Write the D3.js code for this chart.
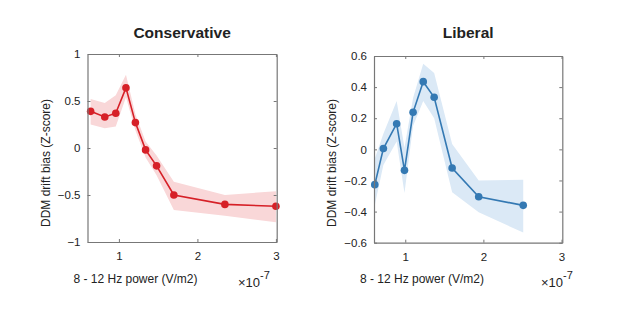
<!DOCTYPE html>
<html>
<head>
<meta charset="utf-8">
<script src="https://cdn.jsdelivr.net/npm/d3@7"></script>
<style>
  body { margin: 0; background: #fff; }
  svg text { font-family: "Liberation Sans", Arial, Helvetica, sans-serif; fill: #222; }
</style>
</head>
<body>
<div id="chart"></div>
<script>
// Conservative panel
const consX = [0.64, 0.82, 0.96, 1.09, 1.21, 1.34, 1.48, 1.70, 2.35, 3.0];
const consY = [0.39, 0.33, 0.37, 0.64, 0.27, -0.02, -0.19, -0.50, -0.60, -0.62];
const consHi = [0.52, 0.48, 0.56, 0.78, 0.36, 0.07, -0.08, -0.36, -0.50, -0.46];
const consLo = [0.25, 0.21, 0.23, 0.54, 0.19, -0.10, -0.29, -0.66, -0.72, -0.79];

// Liberal panel
const libX = [0.61, 0.72, 0.89, 0.99, 1.10, 1.23, 1.37, 1.60, 1.94, 2.51];
const libY = [-0.227, 0.005, 0.165, -0.135, 0.238, 0.435, 0.335, -0.12, -0.305, -0.36];
const libHi = [-0.06, 0.10, 0.31, 0.01, 0.33, 0.55, 0.49, 0.035, -0.20, -0.195];
const libLo = [-0.36, -0.10, 0.05, -0.28, 0.15, 0.31, 0.20, -0.275, -0.405, -0.535];

const xTicks = [1, 2, 3];
const consTicks = [-1, -0.5, 0, 0.5, 1];
const libTicks = [-0.6, -0.4, -0.2, 0, 0.2, 0.4, 0.6];

const svg = d3.select("#chart").append("svg")
    .attr("width", 617)
    .attr("height", 318);

function panel(opt) {
    const x = d3.scaleLinear().domain([0.6, 3.01]).range([opt.left, opt.right]);
    const y = d3.scaleLinear().domain(opt.yDomain).range([opt.bottom, opt.top]);
    const g = svg.append("g");
    const pts = opt.xs.map((v, i) => ({ x: v, y: opt.ys[i], hi: opt.hi[i], lo: opt.lo[i] }));

    // shaded band
    g.append("path")
        .datum(pts)
        .attr("fill", opt.band)
        .attr("d", d3.area().x(d => x(d.x)).y0(d => y(d.lo)).y1(d => y(d.hi)));

    // line
    g.append("path")
        .datum(pts)
        .attr("fill", "none")
        .attr("stroke", opt.color)
        .attr("stroke-width", 1.6)
        .attr("d", d3.line().x(d => x(d.x)).y(d => y(d.y)));

    // markers
    g.selectAll("circle")
        .data(pts)
        .enter()
        .append("circle")
        .attr("cx", d => x(d.x))
        .attr("cy", d => y(d.y))
        .attr("r", 3.8)
        .attr("fill", opt.color);

    // axes (box with inner ticks)
    const axisStyle = sel => {
        sel.select(".domain").attr("stroke", "#777").attr("stroke-width", 1.2);
        sel.selectAll(".tick line").attr("stroke", "#777");
        sel.selectAll("text").style("font-size", "11.5px").attr("fill", "#222");
    };
    g.append("g").attr("transform", `translate(0,${opt.bottom})`)
        .call(d3.axisBottom(x).tickValues(xTicks).tickSize(-3).tickSizeOuter(0).tickPadding(10).tickFormat(d3.format("d")))
        .call(axisStyle);
    g.append("g").attr("transform", `translate(0,${opt.top})`)
        .call(d3.axisTop(x).tickValues(xTicks).tickSize(-3).tickSizeOuter(0).tickFormat(""))
        .call(axisStyle);
    g.append("g").attr("transform", `translate(${opt.left},0)`)
        .call(d3.axisLeft(y).tickValues(opt.yTicks).tickSize(-3).tickSizeOuter(0).tickPadding(7).tickFormat(d => d3.format("")(+d.toFixed(1))))
        .call(axisStyle);
    g.append("g").attr("transform", `translate(${opt.right},0)`)
        .call(d3.axisRight(y).tickValues(opt.yTicks).tickSize(-3).tickSizeOuter(0).tickFormat(""))
        .call(axisStyle);

    // title
    g.append("text")
        .attr("x", (opt.left + opt.right) / 2)
        .attr("y", 38)
        .attr("text-anchor", "middle")
        .style("font-size", "15.5px")
        .style("font-weight", "bold")
        .text(opt.title);

    // y label
    g.append("text")
        .attr("transform", `translate(${opt.left - 38},163) rotate(-90)`)
        .attr("text-anchor", "middle")
        .style("font-size", "12px")
        .text("DDM drift bias (Z-score)");

    // x label
    g.append("text")
        .attr("x", opt.left + 48)
        .attr("y", 283)
        .attr("text-anchor", "middle")
        .style("font-size", "12px")
        .text("8 - 12 Hz power (V/m2)");

    // exponent
    const ex = g.append("text")
        .attr("x", opt.expX)
        .attr("y", 287)
        .attr("text-anchor", "start")
        .style("font-size", "13px");
    ex.append("tspan").text("\u00d710");
    ex.append("tspan").attr("dy", -8).style("font-size", "11px").text("-7");
}

panel({
    title: "Conservative",
    xs: consX, ys: consY, hi: consHi, lo: consLo,
    left: 87.5, right: 276.7, top: 54, bottom: 242, expX: 238,
    yDomain: [-1, 1], yTicks: consTicks,
    color: "#d62027", band: "#f9d7d8"
});

panel({
    title: "Liberal",
    xs: libX, ys: libY, hi: libHi, lo: libLo,
    left: 374, right: 562.3, top: 56, bottom: 242.7, expX: 541,
    yDomain: [-0.6, 0.6], yTicks: libTicks,
    color: "#3479b3", band: "#dbe9f6"
});
</script>
</body>
</html>
